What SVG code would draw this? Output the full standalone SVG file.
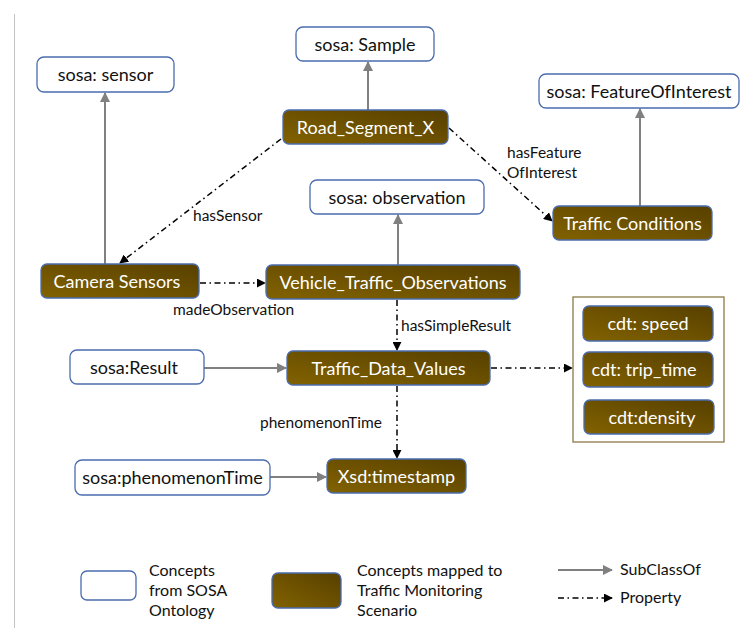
<svg xmlns="http://www.w3.org/2000/svg" width="745" height="628" viewBox="0 0 745 628">
  <defs>
    <linearGradient id="brown" x1="0" y1="1" x2="1" y2="0">
      <stop offset="0" stop-color="#826200"/>
      <stop offset="1" stop-color="#574000"/>
    </linearGradient>
    <marker id="arrGray" viewBox="0 0 10 10" refX="9" refY="5" markerWidth="5" markerHeight="5" orient="auto" markerUnits="strokeWidth">
      <path d="M0,0 L10,5 L0,10 z" fill="#808080"/>
    </marker>
    <marker id="arrBlack" viewBox="0 0 10 10" refX="9" refY="5" markerWidth="6" markerHeight="6" orient="auto" markerUnits="strokeWidth">
      <path d="M0,0 L10,5 L0,10 z" fill="#000"/>
    </marker>
    <style>
      text { font-family: Lato, "Open Sans", "Liberation Sans", sans-serif; }
      .sosa rect { fill: #fff; stroke: #4a6cae; stroke-width: 1.3; }
      .tm rect { fill: url(#brown); stroke: #4a6cae; stroke-width: 1.3; }
      .sosa text { fill: #111; font-size: 18px; text-anchor: middle; }
      .tm text { fill: #fff; font-size: 18px; text-anchor: middle; }
      .sub { stroke: #808080; stroke-width: 2; fill: none; marker-end: url(#arrGray); }
      .prop { stroke: #000; stroke-width: 1.5; fill: none; stroke-dasharray: 6 3.5 1.5 3.5; marker-end: url(#arrBlack); }
      .lbl { fill: #111; font-size: 15.5px; }
      .leg { fill: #111; font-size: 16px; }
      .grp { fill: none; stroke: #8c7a45; stroke-width: 1.3; }
    </style>
  </defs>

  <rect width="745" height="628" fill="#fff"/>
  <!-- page margin rule -->
  <line x1="14.5" y1="14" x2="14.5" y2="628" stroke="#c4c4c4" stroke-width="1"/>

  <!-- connectors -->
  <g id="connectors">
    <!-- SubClassOf -->
    <line class="sub" x1="105" y1="264" x2="105" y2="93"/>
    <line class="sub" x1="368" y1="110" x2="368" y2="62"/>
    <line class="sub" x1="398" y1="265" x2="398" y2="215"/>
    <line class="sub" x1="640" y1="206" x2="640" y2="109"/>
    <line class="sub" x1="204" y1="368" x2="286" y2="368"/>
    <line class="sub" x1="270" y1="477" x2="326" y2="477"/>
    <!-- properties -->
    <line class="prop" x1="281" y1="139" x2="120" y2="263"/>
    <line class="prop" x1="449" y1="128" x2="552" y2="221"/>
    <line class="prop" x1="200" y1="283" x2="265" y2="283"/>
    <line class="prop" x1="397" y1="300" x2="397" y2="350"/>
    <line class="prop" x1="491" y1="368" x2="572" y2="368"/>
    <line class="prop" x1="397" y1="386" x2="397" y2="458"/>
    <!-- property labels -->
    <text class="lbl" x="193" y="221">hasSensor</text>
    <text class="lbl" x="173" y="315">madeObservation</text>
    <text class="lbl" x="507" y="158">hasFeature</text>
    <text class="lbl" x="507" y="178">OfInterest</text>
    <text class="lbl" x="401" y="331">hasSimpleResult</text>
    <text class="lbl" x="260" y="428">phenomenonTime</text>
  </g>

  <!-- SOSA concepts -->
  <g id="sosa-sensor" class="sosa">
    <rect x="37" y="57" width="137" height="35" rx="7"/>
    <text x="105.5" y="81">sosa: sensor</text>
  </g>
  <g id="sosa-sample" class="sosa">
    <rect x="296" y="27" width="138" height="34" rx="7"/>
    <text x="365" y="50.5">sosa: Sample</text>
  </g>
  <g id="sosa-feature" class="sosa">
    <rect x="539" y="74" width="200" height="34" rx="7"/>
    <text x="639" y="97.5">sosa: FeatureOfInterest</text>
  </g>
  <g id="sosa-observation" class="sosa">
    <rect x="310" y="180" width="174" height="34" rx="7"/>
    <text x="397" y="203.5">sosa: observation</text>
  </g>
  <g id="sosa-result" class="sosa">
    <rect x="70" y="350" width="134" height="34" rx="7"/>
    <text x="134" y="373.5">sosa:Result</text>
  </g>
  <g id="sosa-phenomenonTime" class="sosa">
    <rect x="75" y="460" width="195" height="35" rx="7"/>
    <text x="172.5" y="484">sosa:phenomenonTime</text>
  </g>

  <!-- traffic monitoring concepts -->
  <g id="road-segment" class="tm">
    <rect x="283" y="110" width="165" height="34" rx="6"/>
    <text x="365.5" y="133.5">Road_Segment_X</text>
  </g>
  <g id="traffic-conditions" class="tm">
    <rect x="553" y="206" width="159" height="34" rx="6"/>
    <text x="632.5" y="229.5">Traffic Conditions</text>
  </g>
  <g id="camera-sensors" class="tm">
    <rect x="41" y="264" width="158" height="34" rx="6"/>
    <text x="117" y="287.5">Camera Sensors</text>
  </g>
  <g id="vehicle-observations" class="tm">
    <rect x="266" y="265" width="254" height="34" rx="6"/>
    <text x="393" y="288.5">Vehicle_Traffic_Observations</text>
  </g>
  <g id="traffic-data-values" class="tm">
    <rect x="287" y="351" width="203" height="34" rx="6"/>
    <text x="388.5" y="374.5">Traffic_Data_Values</text>
  </g>
  <g id="timestamp" class="tm">
    <rect x="327" y="459" width="139" height="34" rx="6"/>
    <text x="396.5" y="482.5">Xsd:timestamp</text>
  </g>

  <!-- data types group -->
  <g id="cdt-group">
    <rect class="grp" x="573" y="297" width="151" height="145"/>
    <g id="cdt-speed" class="tm">
      <rect x="583" y="306" width="130" height="35" rx="6"/>
      <text x="648" y="330">cdt: speed</text>
    </g>
    <g id="cdt-trip-time" class="tm">
      <rect x="583" y="352" width="130" height="35" rx="6"/>
      <text x="644" y="376">cdt: trip_time</text>
    </g>
    <g id="cdt-density" class="tm">
      <rect x="584" y="400" width="130" height="34" rx="6"/>
      <text x="652" y="423.5">cdt:density</text>
    </g>
  </g>

  <!-- legend -->
  <g id="legend">
    <g id="legend-sosa" class="sosa">
      <rect x="81" y="571" width="55" height="29" rx="6"/>
    </g>
    <text class="leg" x="149" y="576">Concepts</text>
    <text class="leg" x="149" y="596">from SOSA</text>
    <text class="leg" x="149" y="616">Ontology</text>
    <g id="legend-tm" class="tm">
      <rect x="272" y="573" width="69" height="35" rx="6"/>
    </g>
    <text class="leg" x="357" y="576">Concepts mapped to</text>
    <text class="leg" x="357" y="596">Traffic Monitoring</text>
    <text class="leg" x="357" y="616">Scenario</text>
    <line class="sub" x1="558" y1="570" x2="612" y2="570"/>
    <text class="leg" x="620" y="575">SubClassOf</text>
    <line class="prop" x1="558" y1="598" x2="612" y2="598"/>
    <text class="leg" x="620" y="603">Property</text>
  </g>
</svg>
